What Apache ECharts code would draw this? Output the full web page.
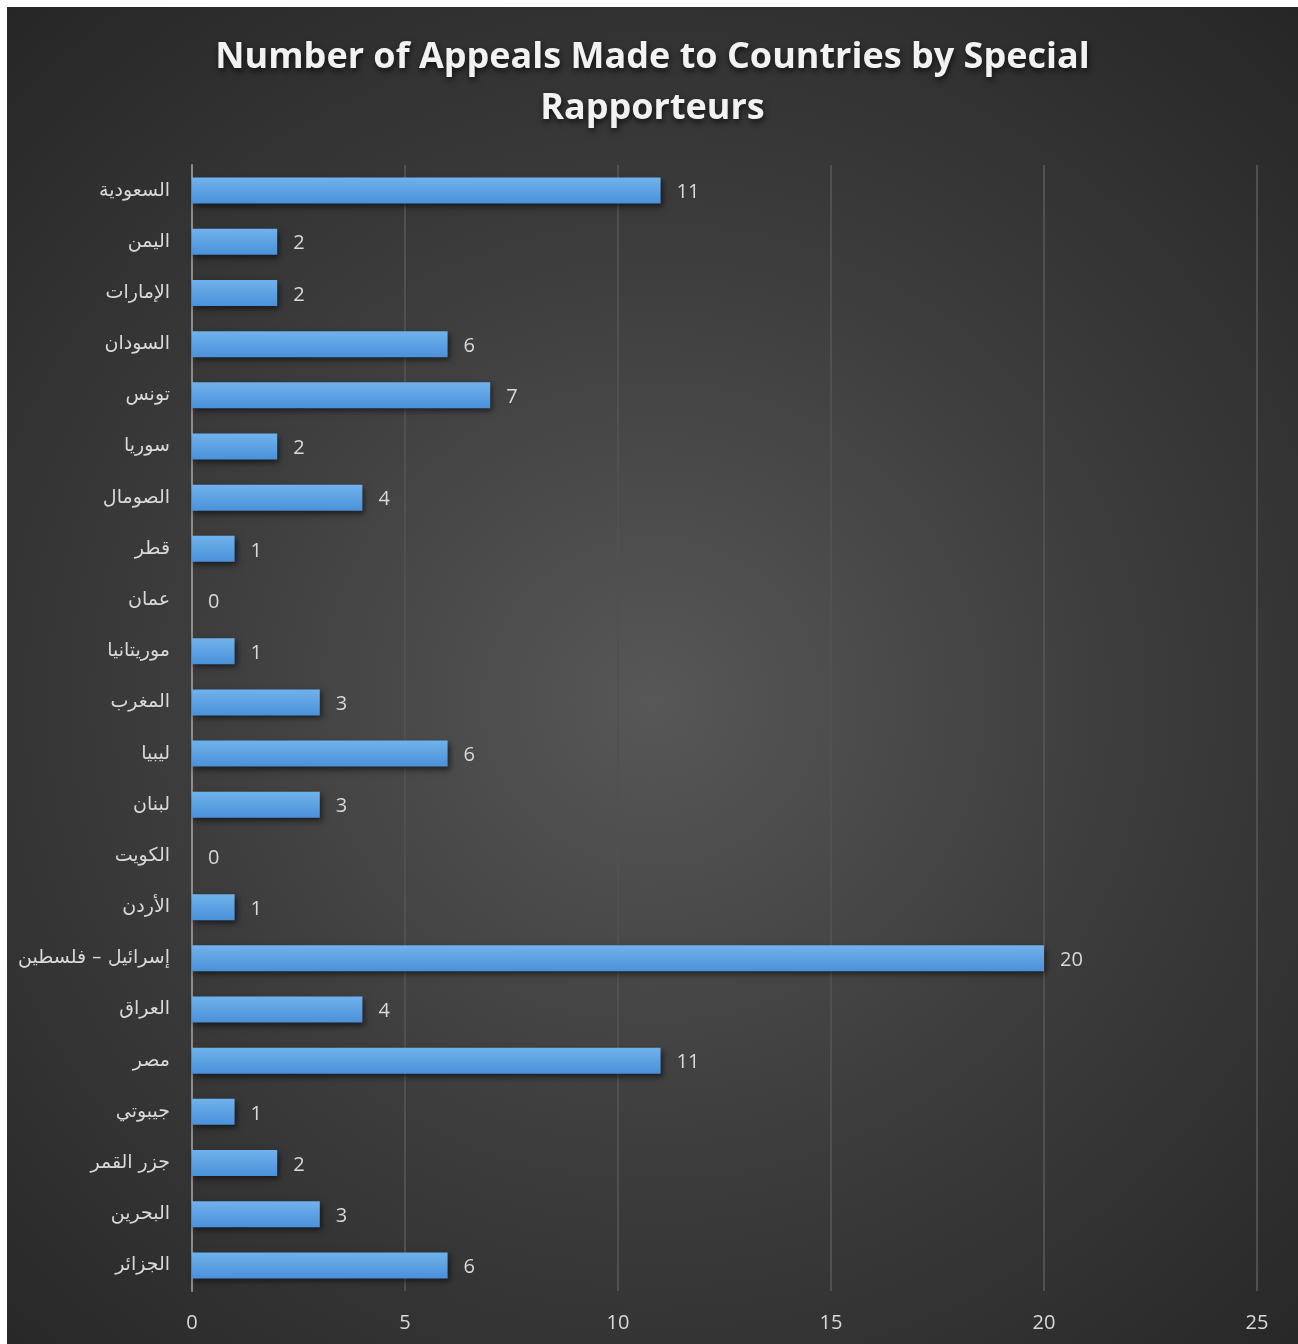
<!DOCTYPE html>
<html>
<head>
<meta charset="utf-8">
<script src="https://cdn.jsdelivr.net/npm/echarts@6/dist/echarts.min.js"></script>
<style>
html,body{margin:0;padding:0;background:#fff;width:1298px;height:1344px;overflow:hidden;}
#chart{position:absolute;left:7px;top:7px;width:1291px;height:1337px;
background:radial-gradient(ellipse 75% 70% at 50% 52%, #575757 0%, #3c3c3c 50%, #262626 100%);}
</style>
</head>
<body>
<div id="chart"></div>
<script>
const categories = ["السعودية","اليمن","الإمارات","السودان","تونس","سوريا","الصومال","قطر","عمان","موريتانيا","المغرب","ليبيا","لبنان","الكويت","الأردن","إسرائيل – فلسطين","العراق","مصر","جيبوتي","جزر القمر","البحرين","الجزائر"];
const values = [11,2,2,6,7,2,4,1,0,1,3,6,3,0,1,20,4,11,1,2,3,6];
const xTicks = {min:0, max:25, interval:5};
const titleText = "Number of Appeals Made to Countries by Special\nRapporteurs";

const chart = echarts.init(document.getElementById('chart'), null, {renderer:'canvas'});
chart.setOption({
  backgroundColor: 'transparent',
  title: {
    text: titleText,
    left: 'center',
    top: 20,
    textStyle: {
      color: '#f2f2f2', fontSize: 36, fontWeight: 'bold', fontFamily: 'Open Sans',
      lineHeight: 51,
      textShadowColor: 'rgba(0,0,0,0.7)', textShadowBlur: 6, textShadowOffsetX: 1, textShadowOffsetY: 3
    }
  },
  grid: {left: 185, right: 41, top: 158, bottom: 53, containLabel: false},
  xAxis: {
    type: 'value', min: xTicks.min, max: xTicks.max, interval: xTicks.interval,
    axisLine: {show: false}, axisTick: {show: false},
    splitLine: {show: true, lineStyle: {color: '#505050', width: 2}},
    axisLabel: {color: '#d9d9d9', fontSize: 20, fontFamily: 'Open Sans', margin: 22}
  },
  yAxis: {
    type: 'category', data: categories, inverse: true,
    axisLine: {show: true, lineStyle: {color: '#8c8c8c', width: 2}},
    axisTick: {show: false},
    axisLabel: {color: '#d9d9d9', fontSize: 19, fontFamily: 'DejaVu Sans', margin: 22}
  },
  series: [{
    type: 'bar', data: values, barWidth: 26,
    itemStyle: {
      color: new echarts.graphic.LinearGradient(0,0,0,1,[
        {offset:0, color:'#70b2ec'},{offset:1, color:'#4a91da'}
      ]),
      shadowColor: 'rgba(0,0,0,0.55)', shadowBlur: 6, shadowOffsetX: 2, shadowOffsetY: 3
    },
    label: {show: true, position: 'right', distance: 16, offset: [0, 2], color: '#d9d9d9', fontSize: 20, fontFamily: 'Open Sans'}
  }],
  animation: false
});
</script>
</body>
</html>
